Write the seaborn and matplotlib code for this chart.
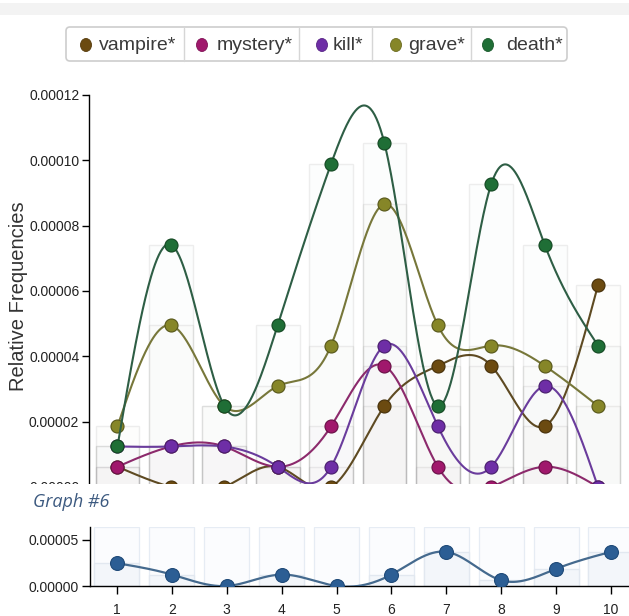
import numpy as np
import pandas as pd
import matplotlib
matplotlib.use("Agg")
import matplotlib.pyplot as plt
import seaborn as sns
from matplotlib.patches import FancyBboxPatch, Rectangle, Ellipse
from matplotlib.colors import to_rgb

# ---------------- data (relative frequencies, units of 1e-5) ----------------
segments = [1, 2, 3, 4, 5, 6, 7, 8, 9, 10]
terms = ["vampire*", "mystery*", "kill*", "grave*", "death*"]
vampire = [0.62, 0.0, 0.0, 0.62, 0.0, 2.48, 3.71, 3.71, 1.86, 6.18]
mystery = [0.62, 1.24, 1.24, 0.62, 1.86, 3.71, 0.62, 0.0, 0.62, 0.0]
kill = [1.24, 1.24, 1.24, 0.62, 0.62, 4.33, 1.86, 0.62, 3.09, 0.0]
grave = [1.86, 4.95, 2.48, 3.09, 4.33, 8.66, 4.95, 4.33, 3.71, 2.48]
death = [1.24, 7.42, 2.48, 4.95, 9.89, 10.52, 2.48, 9.27, 7.42, 4.33]
graph6 = [2.48, 1.24, 0.0, 1.24, 0.0, 1.24, 3.71, 0.62, 1.86, 3.71]
SCALE = 1e-5

main_yticks = [0, 2e-5, 4e-5, 6e-5, 8e-5, 10e-5, 12e-5]
small_yticks = [0, 5e-5]

marker_colors = ["#6b4a10", "#a0186c", "#6e2ea6", "#868628", "#1f6e36"]
line_colors = ["#5e4a22", "#8c2a6c", "#6a3c9c", "#77773a", "#2e5e45"]

values = [vampire, mystery, kill, grave, death]
df = pd.DataFrame({
    "segment": np.tile(segments, len(terms)),
    "term": np.repeat(terms, len(segments)),
    "value": np.concatenate([np.array(v) * SCALE for v in values]),
})
df6 = pd.DataFrame({"segment": segments, "value": np.array(graph6) * SCALE})


def natural_spline(x, y, n=500):
    x = np.asarray(x, float)
    y = np.asarray(y, float)
    m = len(x)
    h = np.diff(x)
    A = np.zeros((m, m))
    rhs = np.zeros(m)
    A[0, 0] = A[-1, -1] = 1
    for i in range(1, m - 1):
        A[i, i - 1] = h[i - 1]
        A[i, i] = 2 * (h[i - 1] + h[i])
        A[i, i + 1] = h[i]
        rhs[i] = 3 * ((y[i + 1] - y[i]) / h[i] - (y[i] - y[i - 1]) / h[i - 1])
    c = np.linalg.solve(A, rhs)
    b = (y[1:] - y[:-1]) / h - h * (2 * c[:-1] + c[1:]) / 3
    d = (c[1:] - c[:-1]) / (3 * h)
    xs = np.linspace(x[0], x[-1], n)
    idx = np.clip(np.searchsorted(x, xs) - 1, 0, m - 2)
    dx = xs - x[idx]
    ys = y[idx] + b[idx] * dx + c[idx] * dx ** 2 + d[idx] * dx ** 3
    return xs, ys


def darker(c, f=0.7):
    r, g, b = to_rgb(c)
    return (r * f, g * f, b * f)


sns.set_theme(style="white")
plt.rcParams["font.family"] = ["Liberation Sans", "DejaVu Sans"]

W, H = 629, 616
fig = plt.figure(figsize=(W / 100, H / 100), dpi=100)
fig.patch.set_facecolor("white")


def px_axes(l, t, r, b, **kw):
    return fig.add_axes([l / W, 1 - b / H, (r - l) / W, (b - t) / H], **kw)


# ---------------- main chart ----------------
ax = px_axes(89, 95, 629, 487)
sns.barplot(data=df, x="segment", y="value", hue="term", hue_order=terms,
            palette=marker_colors, dodge=False, native_scale=True, width=0.82,
            saturation=1, errorbar=None, legend=False, ax=ax, zorder=1)
for p in ax.patches:
    r, g, b, _ = p.get_facecolor()
    # blend towards neutral grey so the stacked fills stay almost white
    p.set_facecolor((0.5 * r + 0.25, 0.5 * g + 0.25, 0.5 * b + 0.25, 0.012))
    p.set_edgecolor((0.55, 0.55, 0.55, 0.14))
    p.set_linewidth(1.0)

for i, (name, vals) in enumerate(zip(terms, values)):
    xs, ys = natural_spline(segments, np.array(vals) * SCALE)
    ax.plot(xs, ys, color=line_colors[i], lw=1.5, zorder=3 + 2 * i)
    sns.scatterplot(x=segments, y=np.array(vals) * SCALE, color=marker_colors[i],
                    s=88, edgecolor=darker(marker_colors[i], 0.65), linewidth=0.8,
                    zorder=4 + 2 * i, ax=ax, legend=False)

ax.set_xlim(0.467, 10.58)
ax.set_ylim(0, 12e-5)
ax.set_yticks(main_yticks)
ax.set_yticklabels([f"{v:.5f}" for v in main_yticks])
ax.set_xticks([])
ax.set_xlabel("")
ax.set_ylabel("Relative Frequencies", fontsize=14.5, color="#333333")
ax.yaxis.set_label_coords((28 - 89) / 540, (487 - 296) / 392)
for s in ["top", "right", "bottom"]:
    ax.spines[s].set_visible(False)
ax.spines["left"].set_color("black")
ax.spines["left"].set_linewidth(1)
ax.tick_params(axis="y", direction="out", length=5, width=1, color="black",
               labelsize=10, labelcolor="#222222", pad=2, left=True)

# ---------------- small chart (Graph #6) ----------------
ax2 = px_axes(90, 527, 629, 586)
top2 = 6.41e-5
ax2.bar(segments, [top2] * len(segments), width=0.82, facecolor=(0.985, 0.99, 0.997),
        edgecolor=(0.9, 0.925, 0.955), linewidth=0.9, zorder=0)
sns.barplot(data=df6, x="segment", y="value", native_scale=True, width=0.82,
            color="#f3f6fa", saturation=1, errorbar=None, ax=ax2, zorder=1,
            edgecolor="#e2e8f0", linewidth=1.0)
xs, ys = natural_spline(segments, np.array(graph6) * SCALE)
ax2.plot(xs, ys, color="#456a8e", lw=1.6, zorder=3)
sns.scatterplot(data=df6, x="segment", y="value", color="#2c5e94", s=100,
                edgecolor="#1f4a78", linewidth=0.8, zorder=4, ax=ax2, legend=False)
ax2.set_xlim(0.508, 10.33)
ax2.set_ylim(0, top2)
ax2.set_xticks(segments)
ax2.set_xticklabels([str(s) for s in segments])
ax2.set_yticks(small_yticks)
ax2.set_yticklabels([f"{v:.5f}" for v in small_yticks])
ax2.set_xlabel("")
ax2.set_ylabel("")
for s in ["top", "right"]:
    ax2.spines[s].set_visible(False)
for s in ["left", "bottom"]:
    ax2.spines[s].set_color("black")
    ax2.spines[s].set_linewidth(1)
ax2.tick_params(axis="both", direction="out", length=6, width=1, color="black",
                labelsize=10, labelcolor="#222222", left=True, bottom=True)
ax2.tick_params(axis="x", pad=6)
ax2.tick_params(axis="y", pad=2)

# ---------------- page overlay: header band, legend, crop, caption ----------------
ov = fig.add_axes([0, 0, 1, 1], zorder=10)
ov.set_xlim(0, W)
ov.set_ylim(H, 0)
ov.axis("off")
ov.add_patch(Rectangle((0, 3), W, 12, facecolor="#f3f3f3", edgecolor="none"))
ov.add_patch(Rectangle((0, 484), W, 40, facecolor="white", edgecolor="none"))
ov.add_patch(FancyBboxPatch((66, 27), 501, 34, boxstyle="round,pad=0,rounding_size=4",
                            facecolor="white", edgecolor="#cdcdcd", linewidth=1.2))
for sx in [184, 299, 372, 471]:
    ov.plot([sx, sx], [27.5, 60.5], color="#d6d6d6", lw=1)
circle_x = [86, 202, 322, 396, 488]
text_x = [99, 217, 333, 408, 506]
for cx, tx, name, col in zip(circle_x, text_x, terms, marker_colors):
    ov.add_patch(Ellipse((cx, 45), 11, 13, facecolor=col, edgecolor=darker(col, 0.8), lw=0.6))
    ov.text(tx, 45, name, fontsize=14, va="center", ha="left", color="#3a3a3a")
ov.text(33, 507, "Graph #6", fontsize=13, style="italic", family=["Open Sans", "DejaVu Sans"],
        color="#3d5a80", va="baseline", ha="left")

fig.savefig("out.png", dpi=100)
